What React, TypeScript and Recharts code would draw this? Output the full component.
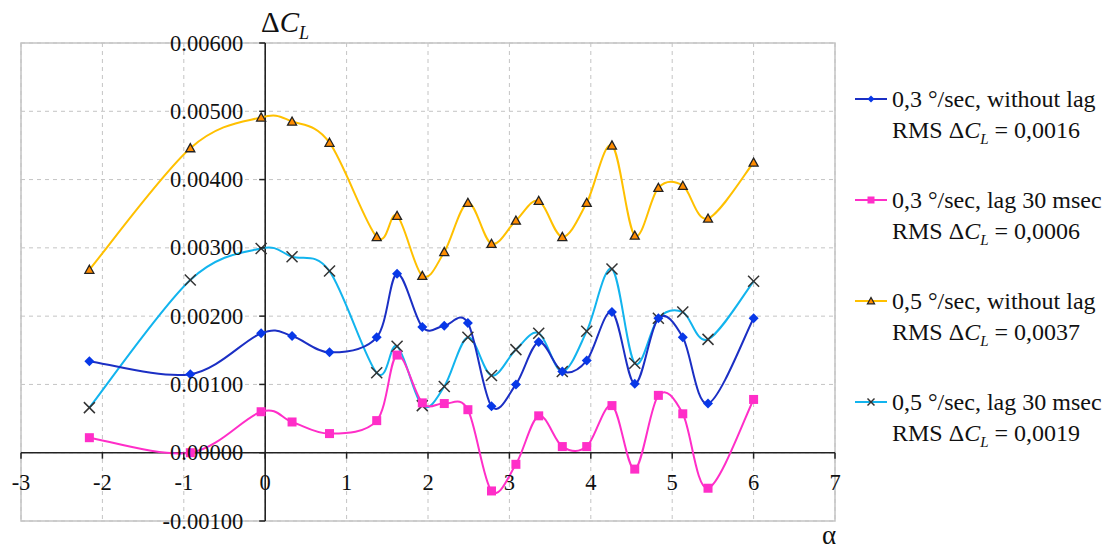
import React from "react";
import {
  CartesianGrid,
  Line,
  LineChart,
  ReferenceArea,
  ReferenceLine,
  XAxis,
  YAxis
} from "recharts";

const alpha = [-2.16, -0.92, -0.05, 0.33, 0.79, 1.37, 1.62, 1.93, 2.2, 2.49, 2.78, 3.08, 3.36, 3.65, 3.95, 4.26, 4.54, 4.83, 5.13, 5.44, 6.0];

const slowNoLag = [0.00134, 0.00115, 0.00175, 0.00171, 0.00147, 0.00169, 0.00262, 0.00184, 0.00186, 0.0019, 0.00068, 0.001, 0.00162, 0.00119, 0.00135, 0.00206, 0.00101, 0.00197, 0.00169, 0.00072, 0.00197];
const slowLag = [0.00022, 0.0, 0.0006, 0.00045, 0.00028, 0.00047, 0.00143, 0.00073, 0.00072, 0.00063, -0.00056, -0.00017, 0.00054, 0.00009, 0.00009, 0.00069, -0.00024, 0.00084, 0.00057, -0.00052, 0.00078];
const fastNoLag = [0.00268, 0.00446, 0.00491, 0.00485, 0.00454, 0.00316, 0.00347, 0.00259, 0.00294, 0.00366, 0.00306, 0.0034, 0.00369, 0.00316, 0.00366, 0.0045, 0.00318, 0.00388, 0.00391, 0.00343, 0.00425];
const fastLag = [0.00066, 0.00253, 0.00299, 0.00287, 0.00266, 0.00117, 0.00156, 0.00069, 0.00097, 0.00169, 0.00113, 0.00151, 0.00175, 0.00119, 0.00178, 0.00269, 0.00131, 0.00197, 0.00206, 0.00166, 0.00251];

const xTicks = [-3, -2, -1, 0, 1, 2, 3, 4, 5, 6, 7];
const yTicks = [-0.001, 0, 0.001, 0.002, 0.003, 0.004, 0.005, 0.006];

const legendRows = [
  { key: "slowNoLag", label: "0,3 °/sec, without lag", rms: "0,0016" },
  { key: "slowLag", label: "0,3 °/sec, lag 30 msec", rms: "0,0006" },
  { key: "fastNoLag", label: "0,5 °/sec, without lag", rms: "0,0037" },
  { key: "fastLag", label: "0,5 °/sec, lag 30 msec", rms: "0,0019" }
];

const data = alpha.map((a, i) => ({
  alpha: a,
  slowNoLag: slowNoLag[i],
  slowLag: slowLag[i],
  fastNoLag: fastNoLag[i],
  fastLag: fastLag[i]
}));

const W = 1095;
const H = 535;
const AX = 2; // tiny axis sizes so recharts still renders the custom ticks
const margin = { top: 35, right: 268, bottom: 22 - AX, left: 13 - AX };
const plotLeft = margin.left + AX;
const plotW = W - plotLeft - margin.right;
const plotH = H - margin.top - margin.bottom - AX;
const X_MIN = -3, X_MAX = 7, Y_MIN = -0.001, Y_MAX = 0.006;
const zeroX = plotLeft + ((0 - X_MIN) / (X_MAX - X_MIN)) * plotW;
const zeroY = margin.top + ((Y_MAX - 0) / (Y_MAX - Y_MIN)) * plotH;

const FONT = "'Liberation Serif', 'Times New Roman', serif";

const BLUE = "#1b2fc4";
const BLUE_DOT = "#0838e8";
const PINK = "#ff2ec8";
const GOLD = "#ffc000";
const CYAN = "#12b4ee";

// Excel-style smoothed line (Catmull-Rom through the points)
function smoothCurve(context: any) {
  let pts: number[][] = [];
  return {
    areaStart() {},
    areaEnd() {},
    lineStart() {
      pts = [];
    },
    point(x: number, y: number) {
      pts.push([+x, +y]);
    },
    lineEnd() {
      const n = pts.length;
      if (!n) return;
      context.moveTo(pts[0][0], pts[0][1]);
      for (let i = 0; i < n - 1; i++) {
        const p0 = pts[Math.max(0, i - 1)];
        const p1 = pts[i];
        const p2 = pts[i + 1];
        const p3 = pts[Math.min(n - 1, i + 2)];
        context.bezierCurveTo(
          p1[0] + (p2[0] - p0[0]) / 6,
          p1[1] + (p2[1] - p0[1]) / 6,
          p2[0] - (p3[0] - p1[0]) / 6,
          p2[1] - (p3[1] - p1[1]) / 6,
          p2[0],
          p2[1]
        );
      }
    }
  };
}

const Diamond = ({ cx, cy, s = 5 }: any) => (
  <polygon points={`${cx},${cy - s} ${cx + s},${cy} ${cx},${cy + s} ${cx - s},${cy}`} fill={BLUE_DOT} />
);
const Square = ({ cx, cy, s = 4.5 }: any) => (
  <rect x={cx - s} y={cy - s} width={2 * s} height={2 * s} fill={PINK} />
);
const Triangle = ({ cx, cy, s = 4.5 }: any) => (
  <polygon
    points={`${cx},${cy - s} ${cx + s},${cy + s * 0.8} ${cx - s},${cy + s * 0.8}`}
    fill="#ff8c00"
    stroke="#222"
    strokeWidth={1.3}
  />
);
const Cross = ({ cx, cy, s = 5.5 }: any) => (
  <g stroke="#333" strokeWidth={1.5}>
    <line x1={cx - s} y1={cy - s} x2={cx + s} y2={cy + s} />
    <line x1={cx - s} y1={cy + s} x2={cx + s} y2={cy - s} />
  </g>
);

const dotFor = (Shape: any) => (props: any) =>
  <Shape key={`${props.dataKey}-${props.index}`} cx={props.cx} cy={props.cy} />;

const tickText = { fontFamily: FONT, fontSize: 22.5 };

const YTick = (props: any) => {
  const { y, payload } = props;
  return (
    <g>
      <line x1={zeroX - 6} x2={zeroX} y1={y} y2={y} stroke="#222" strokeWidth={1.5} />
      <text x={zeroX - 22} y={y} textAnchor="end" dominantBaseline="central" style={tickText} fill="#111">
        {Number(payload.value).toFixed(5)}
      </text>
    </g>
  );
};

const XTick = (props: any) => {
  const { x, payload } = props;
  return (
    <g>
      <line x1={x} x2={x} y1={zeroY} y2={zeroY + 6} stroke="#222" strokeWidth={1.5} />
      <text x={x} y={zeroY + 30} textAnchor="middle" dominantBaseline="central" style={tickText} fill="#111">
        {payload.value}
      </text>
    </g>
  );
};

const legendIcons: Record<string, any> = {
  slowNoLag: { color: BLUE, Shape: Diamond, s: 3.5 },
  slowLag: { color: PINK, Shape: Square, s: 3.5 },
  fastNoLag: { color: GOLD, Shape: Triangle, s: 3.5 },
  fastLag: { color: CYAN, Shape: Cross, s: 3.5 }
};

const RmsLabel = ({ value }: { value: string }) => (
  <span>
    RMS Δ<i>C</i>
    <sub style={{ fontSize: 15, fontStyle: "italic", verticalAlign: "-6px" }}>L</sub> = {value}
  </span>
);

export default function App() {
  return (
    <div style={{ position: "relative", width: W, height: H + 6, fontFamily: FONT, background: "#fff" }}>
      <LineChart width={W} height={H} data={data} margin={margin}>
        <CartesianGrid stroke="#c4c4c4" strokeDasharray="4 4" />
        <ReferenceArea x1={X_MIN} x2={X_MAX} y1={Y_MIN} y2={Y_MAX} fill="none" stroke="#c4c4c4" strokeWidth={1.5} />
        <XAxis
          dataKey="alpha"
          type="number"
          domain={[X_MIN, X_MAX]}
          ticks={xTicks}
          allowDataOverflow
          height={AX}
          axisLine={false}
          tickLine={false}
          tick={XTick}
          interval={0}
        />
        <YAxis
          type="number"
          domain={[Y_MIN, Y_MAX]}
          ticks={yTicks}
          allowDataOverflow
          width={AX}
          axisLine={false}
          tickLine={false}
          tick={YTick}
          interval={0}
        />
        <ReferenceLine x={0} stroke="#222" strokeWidth={1.6} />
        <ReferenceLine y={0} stroke="#222" strokeWidth={1.6} />
        <Line dataKey="fastNoLag" type={smoothCurve as any} stroke={GOLD} strokeWidth={2} dot={dotFor(Triangle)} isAnimationActive={false} />
        <Line dataKey="fastLag" type={smoothCurve as any} stroke={CYAN} strokeWidth={2} dot={dotFor(Cross)} isAnimationActive={false} />
        <Line dataKey="slowNoLag" type={smoothCurve as any} stroke={BLUE} strokeWidth={2} dot={dotFor(Diamond)} isAnimationActive={false} />
        <Line dataKey="slowLag" type={smoothCurve as any} stroke={PINK} strokeWidth={2} dot={dotFor(Square)} isAnimationActive={false} />
      </LineChart>

      <div style={{ position: "absolute", left: 253, top: -2, fontSize: 29, lineHeight: "32px", color: "#111", whiteSpace: "nowrap" }}>
        Δ<i>C</i>
        <sub style={{ fontSize: 18, fontStyle: "italic", verticalAlign: "-7px" }}>L</sub>
      </div>
      <div style={{ position: "absolute", left: 814, top: 516, fontSize: 27, lineHeight: "22px", color: "#111" }}>α</div>

      <div style={{ position: "absolute", left: 845, top: 76, width: 250 }}>
        {legendRows.map((row) => {
          const icon = legendIcons[row.key];
          const Shape = icon.Shape;
          return (
            <div key={row.key} style={{ position: "relative", height: 101, fontSize: 24, lineHeight: "31px", color: "#111", whiteSpace: "nowrap" }}>
              <svg width={36} height={20} style={{ position: "absolute", left: 0, top: 5 }}>
                <line x1={2} x2={34} y1={10} y2={10} stroke={icon.color} strokeWidth={2} />
                <Shape cx={18} cy={10} s={icon.s} />
              </svg>
              <div style={{ position: "absolute", left: 39, top: 0 }}>
                <div>{row.label}</div>
                <RmsLabel value={row.rms} />
              </div>
            </div>
          );
        })}
      </div>
    </div>
  );
}
